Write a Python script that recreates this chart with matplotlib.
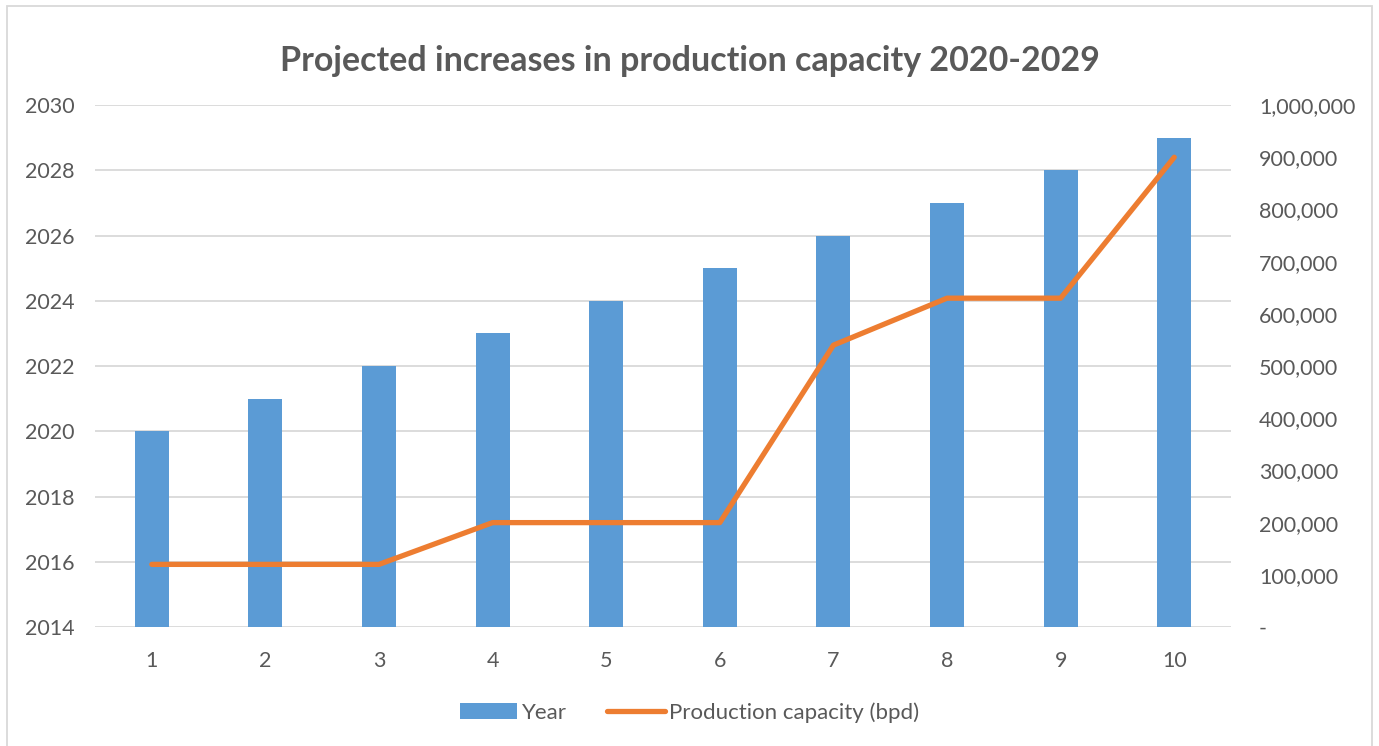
import matplotlib.pyplot as plt
from matplotlib.patches import Rectangle
from matplotlib.ticker import FuncFormatter

# chart data
periods = [1, 2, 3, 4, 5, 6, 7, 8, 9, 10]
years = [2020, 2021, 2022, 2023, 2024, 2025, 2026, 2027, 2028, 2029]
capacity_bpd = [120000, 120000, 120000, 200000, 200000, 200000,
                540000, 630000, 630000, 900000]

BAR_COLOR = "#5B9BD5"
LINE_COLOR = "#ED7D31"
TEXT_COLOR = "#595959"
GRID_COLOR = "#D9D9D9"

plt.rcParams["font.family"] = ["Lato", "DejaVu Sans"]

fig = plt.figure(figsize=(13.79, 7.46), dpi=100)
ax = fig.add_axes([0.0689, 0.1595, 0.8238, 0.6997])

ax.bar(periods, years, width=0.30, color=BAR_COLOR, label="Year", zorder=2)
ax.set_xlim(0.5, 10.5)
ax.set_ylim(2014, 2030)
ax.set_yticks(range(2014, 2031, 2))
ax.set_xticks(periods)
ax.grid(axis="y", color=GRID_COLOR, linewidth=1.3, zorder=0)
ax.set_axisbelow(True)

ax2 = ax.twinx()
ax2.plot(periods, capacity_bpd, color=LINE_COLOR, linewidth=3.8,
         solid_capstyle="round", label="Production capacity (bpd)")
ax2.set_ylim(0, 1000000)
ax2.set_yticks(range(0, 1000001, 100000))
ax2.yaxis.set_major_formatter(
    FuncFormatter(lambda v, _: "-" if v == 0 else f"{int(v):,}"))

for a in (ax, ax2):
    for s in a.spines.values():
        s.set_visible(False)
    a.tick_params(length=0, labelsize=15.5, labelcolor=TEXT_COLOR)
ax.tick_params(axis="y", pad=15)
ax.tick_params(axis="x", pad=17)
ax2.tick_params(axis="y", pad=20)

fig.suptitle("Projected increases in production capacity 2020-2029",
             x=0.5, y=0.94, fontsize=24.5, fontweight="bold", color=TEXT_COLOR)

handles = ax.get_legend_handles_labels()[0] + ax2.get_legend_handles_labels()[0]
labels = ax.get_legend_handles_labels()[1] + ax2.get_legend_handles_labels()[1]
fig.legend(handles, labels, loc="center", bbox_to_anchor=(0.5, 0.045),
           ncol=2, frameon=False, fontsize=16, labelcolor=TEXT_COLOR,
           handlelength=2.6, handletextpad=0.2, columnspacing=1.8)

# outer chart border
fig.patches.append(Rectangle((7 / 1379, -0.01), 1 - 14 / 1379, 1 - 6 / 746 + 0.01,
                             transform=fig.transFigure, fill=False,
                             edgecolor=GRID_COLOR, linewidth=1.3))

fig.savefig("out.png", dpi=100)
